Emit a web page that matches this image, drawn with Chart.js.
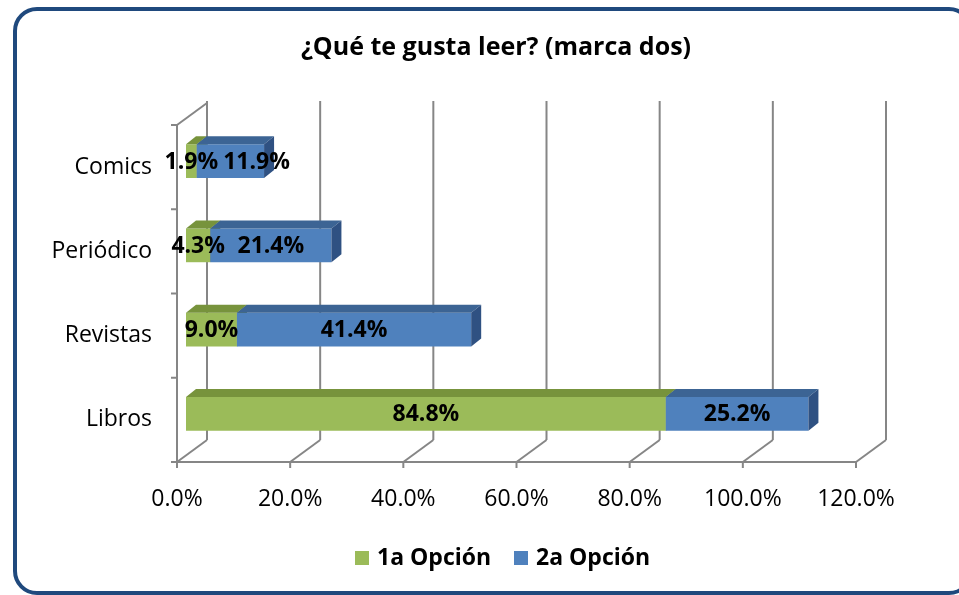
<!DOCTYPE html>
<html>
<head>
<meta charset="utf-8">
<script src="https://cdn.jsdelivr.net/npm/chart.js@4.4.1/dist/chart.umd.min.js"></script>
<style>
html, body { margin: 0; padding: 0; background: #fff; overflow: hidden; }
#frame { position: absolute; left: 13px; top: 7px; width: 960px; height: 588px; box-sizing: border-box;
         border: 4px solid #1f497d; border-radius: 24px; }
#chart { position: absolute; left: 0; top: 0; }
</style>
</head>
<body>
<div id="frame"></div>
<canvas id="chart" width="959" height="595"></canvas>
<script>
const categories = ['Comics', 'Periódico', 'Revistas', 'Libros'];
const primeraOpcion = [1.9, 4.3, 9.0, 84.8];
const segundaOpcion = [11.9, 21.4, 41.4, 25.2];
const seriesNames = ['1a Opción', '2a Opción'];
const xTicks = [0, 20, 40, 60, 80, 100, 120];

const FONT = '"Open Sans", sans-serif';
// excel-like 3d look
const WALL = { dx: 30, dy: -22 };
const BAR_OFF = { dx: 9, dy: -6 };
const BAR_DEPTH = { dx: 10, dy: -8 };
const faces = [
  { front: '#9bbb59', top: '#77933c', side: '#5f7a2e' },
  { front: '#4f81bd', top: '#3c6494', side: '#2f5182' }
];

function line(ctx, x1, y1, x2, y2) {
  ctx.beginPath();
  ctx.moveTo(x1, y1);
  ctx.lineTo(x2, y2);
  ctx.stroke();
}

function poly(ctx, pts, color) {
  ctx.beginPath();
  ctx.moveTo(pts[0][0], pts[0][1]);
  for (let i = 1; i < pts.length; i++) ctx.lineTo(pts[i][0], pts[i][1]);
  ctx.closePath();
  ctx.fillStyle = color;
  ctx.fill();
}

const scene3d = {
  id: 'scene3d',
  beforeDatasetsDraw(chart) {
    const { ctx, chartArea: a, scales: { x, y } } = chart;
    ctx.save();
    ctx.strokeStyle = '#868686';
    ctx.lineWidth = 2;

    // left wall
    line(ctx, a.left, a.top, a.left, a.bottom);
    line(ctx, a.left, a.top, a.left + WALL.dx, a.top + WALL.dy);
    for (let i = 0; i <= categories.length; i++) {
      const yy = i === 0 ? a.top : (i === categories.length ? a.bottom : (y.getPixelForValue(i - 1) + y.getPixelForValue(i)) / 2);
      line(ctx, a.left - 6, yy, a.left, yy);
    }

    // floor + back wall
    line(ctx, a.left, a.bottom, a.right, a.bottom);
    xTicks.forEach(v => {
      const px = x.getPixelForValue(v);
      line(ctx, px, a.bottom, px, a.bottom + 6);
      line(ctx, px, a.bottom, px + WALL.dx, a.bottom + WALL.dy);
      line(ctx, px + WALL.dx, a.bottom + WALL.dy, px + WALL.dx, a.top + WALL.dy - 2);
    });

    // bars as boxes
    const metas = [chart.getDatasetMeta(0), chart.getDatasetMeta(1)];
    for (let i = 0; i < categories.length; i++) {
      metas.forEach((meta, d) => {
        const el = meta.data[i];
        const p = el.getProps(['x', 'y', 'base', 'height'], true);
        const x0 = Math.min(p.x, p.base) + BAR_OFF.dx;
        const x1 = Math.max(p.x, p.base) + BAR_OFF.dx;
        const yt = p.y - p.height / 2 + BAR_OFF.dy;
        const yb = p.y + p.height / 2 + BAR_OFF.dy;
        const f = faces[d];
        poly(ctx, [[x0, yt], [x1, yt], [x1, yb], [x0, yb]], f.front);
        poly(ctx, [[x0, yt], [x1, yt], [x1 + BAR_DEPTH.dx, yt + BAR_DEPTH.dy], [x0 + BAR_DEPTH.dx, yt + BAR_DEPTH.dy]], f.top);
        poly(ctx, [[x1, yt], [x1 + BAR_DEPTH.dx, yt + BAR_DEPTH.dy], [x1 + BAR_DEPTH.dx, yb + BAR_DEPTH.dy], [x1, yb]], f.side);
      });
    }
    ctx.restore();
    return false;
  },
  afterDraw(chart) {
    const { ctx } = chart;
    ctx.save();
    ctx.fillStyle = '#000';
    ctx.textBaseline = 'middle';

    // data labels, pushed right when they would overlap the previous one
    ctx.font = 'bold 23px ' + FONT;
    ctx.textAlign = 'center';
    for (let i = 0; i < categories.length; i++) {
      let prevRight = -Infinity;
      [0, 1].forEach(d => {
        const el = chart.getDatasetMeta(d).data[i];
        const p = el.getProps(['x', 'y', 'base'], true);
        const txt = chart.data.datasets[d].data[i].toFixed(1) + '%';
        const w = ctx.measureText(txt).width;
        let cx = (p.x + p.base) / 2 + BAR_OFF.dx;
        if (cx - w / 2 < prevRight + 5) cx = prevRight + 5 + w / 2;
        ctx.fillText(txt, cx, p.y + BAR_OFF.dy + 1);
        prevRight = cx + w / 2;
      });
    }

    // title
    ctx.font = 'bold 25px ' + FONT;
    ctx.fillText('¿Qué te gusta leer? (marca dos)', 496, 48);

    // legend
    ctx.font = 'bold 23px ' + FONT;
    ctx.textAlign = 'left';
    const legendItems = [[355, 377], [514, 536]];
    seriesNames.forEach((name, d) => {
      ctx.fillStyle = faces[d].front;
      ctx.fillRect(legendItems[d][0], 551, 14, 14);
      ctx.fillStyle = '#000';
      ctx.fillText(name, legendItems[d][1], 558);
    });
    ctx.restore();
  }
};

new Chart(document.getElementById('chart'), {
  type: 'bar',
  data: {
    labels: categories,
    datasets: [
      { label: seriesNames[0], data: primeraOpcion, backgroundColor: faces[0].front },
      { label: seriesNames[1], data: segundaOpcion, backgroundColor: faces[1].front }
    ]
  },
  options: {
    indexAxis: 'y',
    responsive: false,
    animation: false,
    categoryPercentage: 1,
    barPercentage: 0.4,
    layout: { padding: { left: 0, top: 125, right: 103, bottom: 70 } },
    plugins: { legend: { display: false }, title: { display: false }, tooltip: { enabled: false } },
    scales: {
      x: {
        stacked: true,
        min: 0,
        max: 120,
        grid: { display: false },
        border: { display: false },
        ticks: {
          stepSize: 20,
          padding: 16,
          color: '#000',
          font: { family: FONT, size: 23 },
          callback: v => v.toFixed(1) + '%'
        },
        afterFit: s => { s.height = 63; }
      },
      y: {
        stacked: true,
        grid: { display: false },
        border: { display: false },
        ticks: { padding: 17, color: '#000', font: { family: FONT, size: 23 } },
        afterFit: s => { s.width = 177; }
      }
    }
  },
  plugins: [scene3d]
});
</script>
</body>
</html>
